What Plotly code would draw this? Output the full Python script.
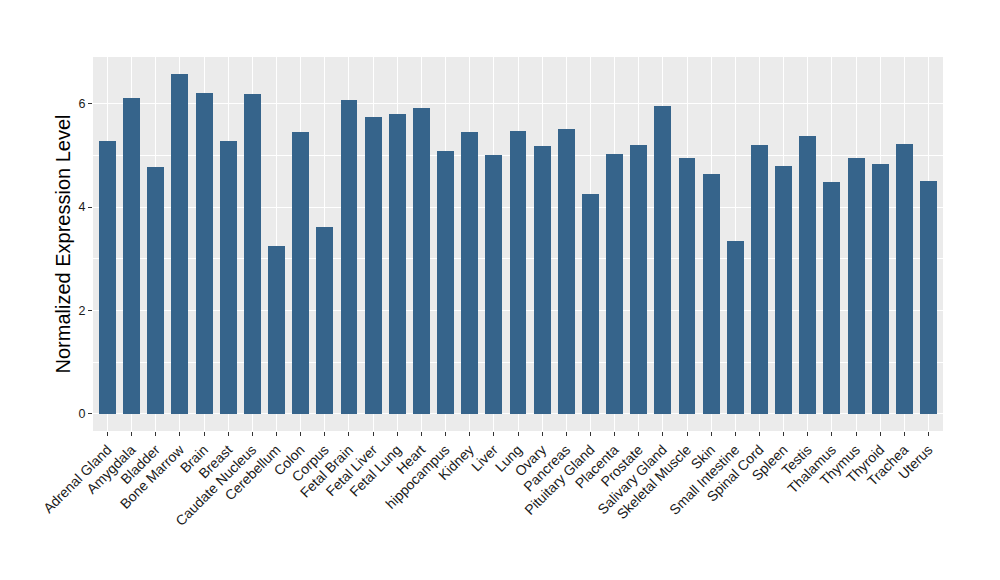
import plotly.graph_objects as go

tissues = ["Adrenal Gland", "Amygdala", "Bladder", "Bone Marrow", "Brain", "Breast",
           "Caudate Nucleus", "Cerebellum", "Colon", "Corpus", "Fetal Brain", "Fetal Liver",
           "Fetal Lung", "Heart", "hippocampus", "Kidney", "Liver", "Lung", "Ovary",
           "Pancreas", "Pituitary Gland", "Placenta", "Prostate", "Salivary Gland",
           "Skeletal Muscle", "Skin", "Small Intestine", "Spinal Cord", "Spleen", "Testis",
           "Thalamus", "Thymus", "Thyroid", "Trachea", "Uterus"]
expression = [5.27, 6.10, 4.77, 6.57, 6.20, 5.27, 6.18, 3.24, 5.45, 3.61, 6.06, 5.74,
              5.79, 5.91, 5.08, 5.45, 5.00, 5.46, 5.17, 5.50, 4.25, 5.02, 5.19, 5.95,
              4.94, 4.63, 3.34, 5.19, 4.79, 5.37, 4.48, 4.94, 4.83, 5.21, 4.50]
y_ticks = [0, 2, 4, 6]

fig = go.Figure(go.Bar(x=tissues, y=expression, width=0.7,
                       marker=dict(color="#36648B", line=dict(width=0)),
                       hoverinfo="x+y"))

font_family = "Liberation Sans, Arial, sans-serif"
fig.update_layout(
    width=1000, height=580,
    margin=dict(l=85, r=65, t=49, b=157),
    paper_bgcolor="white",
    plot_bgcolor="#EBEBEB",
    font=dict(family=font_family, color="#4D4D4D", size=14),
    showlegend=False,
    bargap=0,
)
fig.update_xaxes(
    type="category",
    automargin=False,
    range=[-0.6, len(tissues) - 0.4],
    tickangle=-45,
    tickfont=dict(size=14, color="#1a1a1a"),
    ticks="outside", ticklen=4, tickcolor="#333333", tickwidth=1,
    showgrid=True, gridcolor="white", gridwidth=1.1,
    zeroline=False, showline=False,
)
fig.update_yaxes(
    automargin=False,
    range=[-0.33, 6.90],
    tickvals=y_ticks,
    ticktext=[str(v) for v in y_ticks],
    tickfont=dict(size=12.5, color="#1a1a1a"),
    ticks="outside", ticklen=4, tickcolor="#333333", tickwidth=1,
    showgrid=True, gridcolor="white", gridwidth=1.1,
    minor=dict(tickvals=[1, 3, 5], showgrid=True, gridcolor="white", gridwidth=0.5, ticks=""),
    zeroline=False, showline=False,
    title=dict(text="Normalized Expression Level", font=dict(size=20, color="black"), standoff=2),
)

fig.write_html("out.html")
